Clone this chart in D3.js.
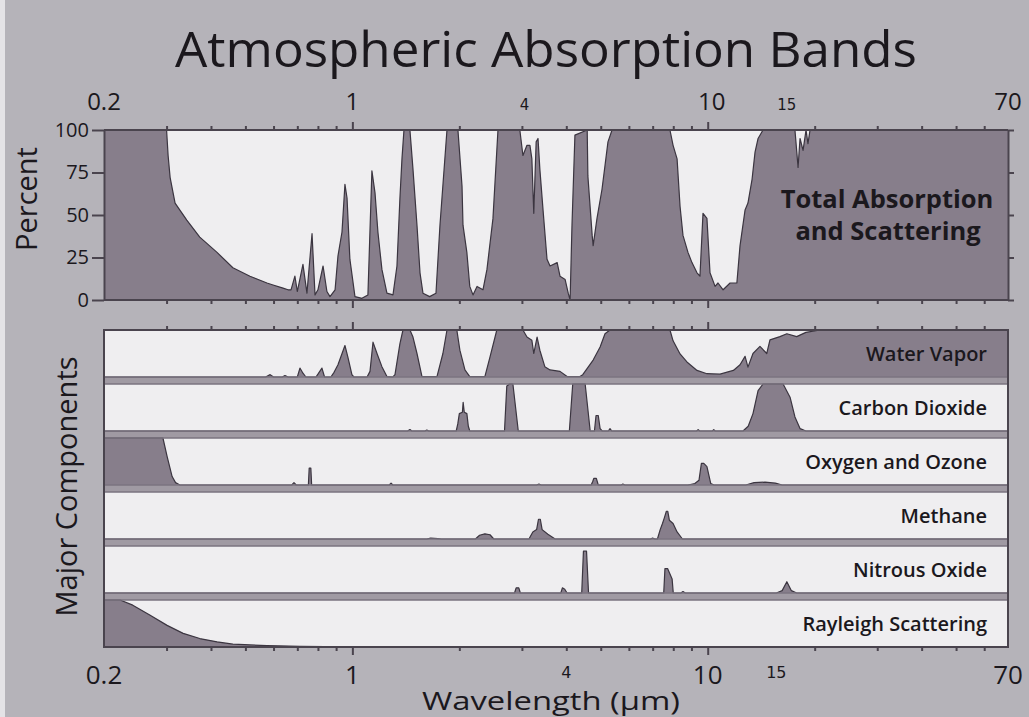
<!DOCTYPE html>
<html>
<head>
<meta charset="utf-8">
<script src="https://cdn.jsdelivr.net/npm/d3@7"></script>
<style>
  body { margin: 0; background: #b5b3b9; }
  svg { display: block; font-family: "Open Sans", sans-serif; }
</style>
</head>
<body>
<svg id="chart" width="1029" height="717"></svg>
<script>
// wavelength (µm) vs percent
const totalAbsorption = [
  [0.2, 100], [0.300, 100], [0.303, 85], [0.307, 72], [0.317, 57], [0.342, 47],
  [0.372, 37], [0.416, 28], [0.461, 19], [0.515, 14], [0.575, 10], [0.595, 9],
  [0.638, 7], [0.659, 6], [0.672, 6], [0.689, 14], [0.700, 5], [0.726, 21],
  [0.745, 4], [0.770, 39], [0.785, 3], [0.800, 6], [0.827, 20], [0.848, 5],
  [0.865, 2], [0.894, 6], [0.911, 26], [0.935, 40], [0.953, 68], [0.966, 60],
  [0.984, 24], [1.017, 2], [1.064, 1], [1.106, 3], [1.135, 76], [1.158, 63],
  [1.180, 40], [1.211, 18], [1.251, 4], [1.301, 3], [1.335, 20], [1.361, 60],
  [1.379, 83], [1.397, 100], [1.452, 100], [1.481, 77], [1.520, 44], [1.550, 16],
  [1.580, 4], [1.650, 2], [1.719, 4], [1.764, 44], [1.846, 100], [1.982, 100],
  [2.035, 67], [2.048, 44], [2.100, 28], [2.140, 8], [2.185, 3], [2.243, 8],
  [2.331, 6], [2.392, 18], [2.487, 48], [2.569, 100], [2.960, 100], [3.02, 85],
  [3.10, 91], [3.16, 91], [3.20, 83], [3.24, 51], [3.29, 93], [3.33, 95],
  [3.37, 77], [3.44, 53], [3.53, 24], [3.60, 20], [3.77, 22], [3.84, 14],
  [3.97, 12], [4.05, 4], [4.10, 0], [4.15, 44], [4.23, 97], [4.58, 100],
  [4.60, 73], [4.73, 38], [4.76, 32], [4.88, 48], [5.04, 65], [5.14, 79],
  [5.24, 93], [5.38, 100], [7.83, 100], [7.99, 91], [8.20, 83], [8.36, 55],
  [8.52, 38], [8.80, 28], [9.03, 22], [9.33, 16], [9.51, 14], [9.70, 51],
  [9.95, 48], [10.15, 16], [10.49, 8], [10.69, 10], [11.05, 6], [11.56, 10],
  [12.08, 10], [12.33, 32], [12.74, 53], [12.98, 57], [13.33, 71], [13.59, 87],
  [13.86, 95], [14.31, 100], [17.6, 100], [17.96, 78], [18.19, 95], [18.55, 88],
  [18.91, 100], [19.15, 92], [19.41, 100], [70, 100]
];

const waterVapor = [
  [0.2, 0], [0.57, 0], [0.587, 5], [0.60, 0], [0.635, 0], [0.646, 3], [0.66, 0],
  [0.70, 0], [0.712, 19], [0.726, 8], [0.74, 0], [0.79, 0], [0.80, 6], [0.821, 19],
  [0.835, 0], [0.87, 0], [0.888, 10], [0.911, 26], [0.953, 67], [0.971, 43],
  [0.997, 5], [1.01, 0], [1.10, 0], [1.121, 12], [1.143, 74], [1.173, 50],
  [1.211, 22], [1.251, 1], [1.30, 0], [1.318, 5], [1.361, 71], [1.388, 100],
  [1.452, 100], [1.481, 85], [1.52, 50], [1.57, 1], [1.73, 1], [1.798, 50],
  [1.846, 100], [1.968, 100], [2.007, 57], [2.074, 15], [2.14, 1], [2.36, 1],
  [2.44, 43], [2.55, 100], [3.02, 100], [3.10, 85], [3.20, 78], [3.24, 50],
  [3.31, 85], [3.37, 57], [3.48, 22], [3.60, 15], [3.84, 12], [4.02, 1],
  [4.37, 1], [4.45, 5], [4.76, 36], [4.98, 64], [5.14, 92], [5.31, 100],
  [7.83, 100], [7.99, 77], [8.36, 49], [8.74, 32], [9.33, 14], [9.95, 7],
  [10.83, 6], [11.81, 14], [12.33, 26], [12.74, 44], [12.98, 21], [13.41, 50],
  [14.03, 65], [14.66, 50], [14.97, 79], [15.97, 86], [16.7, 92], [17.8, 86],
  [18.9, 95], [20.71, 100], [70, 100]
];

const carbonDioxide = [
  [0.2, 0], [1.43, 0], [1.452, 3], [1.47, 0], [1.60, 0], [1.62, 2], [1.64, 0],
  [1.96, 0], [1.98, 15], [2.00, 37], [2.04, 40], [2.05, 61], [2.065, 40],
  [2.10, 37], [2.12, 10], [2.14, 0], [2.68, 0], [2.72, 96], [2.77, 100],
  [2.83, 100], [2.93, 0], [4.08, 0], [4.17, 100], [4.52, 100], [4.67, 0],
  [4.80, 0], [4.85, 33], [4.92, 33], [4.98, 5], [5.05, 0], [5.25, 0], [5.31, 5],
  [5.37, 0], [9.3, 0], [9.4, 3], [9.5, 0], [10.3, 0], [10.4, 3], [10.5, 0],
  [12.57, 0], [13.0, 10], [13.41, 37], [13.86, 86], [14.31, 100], [16.3, 100],
  [17.05, 72], [17.6, 30], [18.2, 5], [18.9, 0], [70, 0]
];

const oxygenOzone = [
  [0.2, 100], [0.293, 100], [0.301, 61], [0.311, 18], [0.318, 5], [0.327, 0],
  [0.675, 0], [0.685, 5], [0.695, 0], [0.752, 0], [0.756, 36], [0.764, 36],
  [0.768, 0], [1.27, 0], [1.285, 4], [1.30, 0], [3.3, 0], [3.35, 2], [3.4, 0],
  [4.70, 0], [4.75, 8], [4.78, 14], [4.86, 14], [4.92, 0], [5.7, 0], [5.77, 2],
  [5.85, 0], [8.8, 0], [9.2, 3], [9.45, 10], [9.6, 46], [9.75, 46], [9.95, 39],
  [10.2, 3], [10.42, 0], [12.8, 0], [13.5, 5], [14.5, 6], [15.5, 4], [16.2, 0],
  [70, 0]
];

const methane = [
  [0.2, 0], [1.62, 0], [1.66, 2], [1.74, 1], [1.78, 0], [2.22, 0], [2.28, 8],
  [2.36, 11], [2.44, 9], [2.50, 0], [3.14, 0], [3.22, 15], [3.30, 20], [3.34, 42],
  [3.38, 42], [3.42, 20], [3.55, 10], [3.72, 0], [6.9, 0], [7.0, 2], [7.1, 0],
  [7.22, 0], [7.35, 20], [7.46, 33], [7.55, 45], [7.65, 59], [7.72, 59],
  [7.80, 40], [7.99, 33], [8.2, 15], [8.49, 0], [70, 0]
];

const nitrousOxide = [
  [0.2, 0], [2.86, 0], [2.89, 11], [2.94, 11], [2.97, 0], [3.86, 0], [3.90, 11],
  [3.96, 8], [4.02, 0], [4.42, 0], [4.47, 89], [4.56, 89], [4.62, 0], [7.52, 0],
  [7.58, 52], [7.71, 52], [7.94, 30], [8.0, 0], [8.4, 0], [8.52, 3], [8.65, 0],
  [15.6, 0], [16.2, 5], [16.7, 24], [17.2, 5], [17.8, 0], [70, 0]
];

const rayleigh = [
  [0.2, 100], [0.222, 100], [0.241, 89], [0.269, 68], [0.301, 46], [0.334, 29],
  [0.372, 18], [0.416, 11], [0.461, 6], [0.575, 3], [0.712, 1.5], [0.984, 0.5],
  [2, 0], [70, 0]
];

const components = [
  { name: "Water Vapor", data: waterVapor },
  { name: "Carbon Dioxide", data: carbonDioxide },
  { name: "Oxygen and Ozone", data: oxygenOzone },
  { name: "Methane", data: methane },
  { name: "Nitrous Oxide", data: nitrousOxide },
  { name: "Rayleigh Scattering", data: rayleigh }
];

const minorTicks = [0.3, 0.4, 0.5, 0.6, 0.7, 0.8, 0.9, 2, 3, 4, 5, 6, 7, 8, 9, 20, 30, 40, 50, 60];
const majorTicks = [1, 10];
const bigLabels = [0.2, 1, 10, 70];
const smallLabels = [4, 15];
// the small labels sit a little off their ticks in the original
const topSmallLabelPos = [3.05, 16.7];
const bottomSmallLabelPos = [4, 15.6];
const percentTicks = [0, 25, 50, 75, 100];

const COLORS = {
  fill: "#877e8b",
  line: "#3b3540",
  panel: "#efeef0",
  gap: "#a09aa3",
  frame: "#4a444e",
  text: "#1b181d"
};

const svg = d3.select("#chart");
const x = d3.scaleLog().domain([0.2, 70]).range([104, 1008]);
const yTop = d3.scaleLinear().domain([0, 100]).range([300, 130]);

const LOWER_TOP = 330;
const PANEL_H = 47;
const GAP = 7;
const LOWER_BOTTOM = LOWER_TOP + 6 * PANEL_H + 5 * GAP;

// photo edge on the left
svg.append("rect").attr("x", 0).attr("y", 0).attr("width", 5).attr("height", 717).attr("fill", "#e4e3e6");

// Title
svg.append("text")
  .attr("x", 546).attr("y", 67)
  .attr("text-anchor", "middle")
  .attr("font-size", 49)
  .attr("fill", COLORS.text)
  .attr("textLength", 742)
  .attr("lengthAdjust", "spacingAndGlyphs")
  .text("Atmospheric Absorption Bands");

function drawSpectrum(g, data, y) {
  g.append("path")
    .datum(data)
    .attr("fill", COLORS.fill)
    .attr("d", d3.area().x((d) => x(d[0])).y0(y(0)).y1((d) => y(d[1])));
  g.append("path")
    .datum(data)
    .attr("fill", "none")
    .attr("stroke", COLORS.line)
    .attr("stroke-width", 1.2)
    .attr("stroke-linejoin", "round")
    .attr("d", d3.line().x((d) => x(d[0])).y((d) => y(d[1])));
}

function xTicks(y, dir) {
  const axisFn = dir === "up" ? d3.axisTop : d3.axisBottom;
  svg.append("g")
    .attr("transform", `translate(0,${y})`)
    .call(axisFn(x).tickValues(minorTicks).tickSize(4).tickFormat("").tickSizeOuter(0))
    .call((g) => g.select(".domain").remove())
    .call((g) => g.selectAll("line").attr("stroke", COLORS.frame).attr("stroke-width", 2));
  svg.append("g")
    .attr("transform", `translate(0,${y})`)
    .call(axisFn(x).tickValues(majorTicks).tickSize(8).tickFormat("").tickSizeOuter(0))
    .call((g) => g.select(".domain").remove())
    .call((g) => g.selectAll("line").attr("stroke", COLORS.frame).attr("stroke-width", 2));
}

// ---- Top panel: total absorption
const topPanel = svg.append("g");
topPanel.append("rect")
  .attr("x", x(0.2)).attr("y", yTop(100))
  .attr("width", x(70) - x(0.2)).attr("height", yTop(0) - yTop(100))
  .attr("fill", COLORS.panel);
drawSpectrum(topPanel, totalAbsorption, yTop);

topPanel.append("g")
  .attr("transform", `translate(${x(0.2)},0)`)
  .call(d3.axisLeft(yTop).tickValues(percentTicks).tickSize(12).tickPadding(3).tickSizeOuter(0))
  .call((g) => g.select(".domain").attr("stroke", COLORS.frame).attr("stroke-width", 2))
  .call((g) => g.selectAll("line").attr("stroke", COLORS.frame).attr("stroke-width", 2))
  .call((g) => g.selectAll("text").attr("font-size", 20).attr("fill", COLORS.text)
    .attr("font-family", "Open Sans, sans-serif"));

topPanel.append("g")
  .attr("transform", `translate(${x(70)},0)`)
  .call(d3.axisRight(yTop).tickValues(percentTicks).tickSize(6).tickFormat("").tickSizeOuter(0))
  .call((g) => g.select(".domain").attr("stroke", COLORS.frame).attr("stroke-width", 2))
  .call((g) => g.selectAll("line").attr("stroke", COLORS.frame).attr("stroke-width", 2));

[100, 0].forEach((v) => {
  topPanel.append("line")
    .attr("x1", x(0.2)).attr("x2", x(70))
    .attr("y1", yTop(v)).attr("y2", yTop(v))
    .attr("stroke", COLORS.frame).attr("stroke-width", 2);
});
xTicks(yTop(100), "up");
xTicks(yTop(0), "down");

topPanel.append("text")
  .attr("transform", "translate(37,199) rotate(-90)")
  .attr("text-anchor", "middle")
  .attr("font-size", 29)
  .attr("fill", COLORS.text)
  .text("Percent");

const labelTotal = topPanel.append("text")
  .attr("text-anchor", "middle")
  .attr("font-size", 25.5)
  .attr("font-weight", "bold")
  .attr("fill", COLORS.text);
labelTotal.append("tspan").attr("x", 887).attr("y", 208).text("Total Absorption");
labelTotal.append("tspan").attr("x", 888).attr("y", 240).text("and Scattering");

// ---- Lower panels: major components
svg.append("rect")
  .attr("x", x(0.2)).attr("y", LOWER_TOP)
  .attr("width", x(70) - x(0.2)).attr("height", LOWER_BOTTOM - LOWER_TOP)
  .attr("fill", COLORS.gap);

components.forEach((c, i) => {
  const y0 = LOWER_TOP + i * (PANEL_H + GAP);
  const y = d3.scaleLinear().domain([0, 100]).range([y0 + PANEL_H, y0]);
  const g = svg.append("g");
  g.append("rect")
    .attr("x", x(0.2)).attr("y", y0)
    .attr("width", x(70) - x(0.2)).attr("height", PANEL_H)
    .attr("fill", COLORS.panel);
  drawSpectrum(g, c.data, y);
  g.append("rect")
    .attr("x", x(0.2)).attr("y", y0)
    .attr("width", x(70) - x(0.2)).attr("height", PANEL_H)
    .attr("fill", "none")
    .attr("stroke", "#7b7480")
    .attr("stroke-width", 1.5);
  g.append("text")
    .attr("x", 987).attr("y", y0 + PANEL_H / 2 + 7)
    .attr("text-anchor", "end")
    .attr("font-size", 20)
    .attr("font-weight", 600)
    .attr("fill", COLORS.text)
    .text(c.name);
});

svg.append("rect")
  .attr("x", x(0.2)).attr("y", LOWER_TOP)
  .attr("width", x(70) - x(0.2)).attr("height", LOWER_BOTTOM - LOWER_TOP)
  .attr("fill", "none")
  .attr("stroke", COLORS.frame)
  .attr("stroke-width", 2);
xTicks(LOWER_TOP, "up");
xTicks(LOWER_BOTTOM, "down");

svg.append("text")
  .attr("transform", `translate(77,${(LOWER_TOP + LOWER_BOTTOM) / 2 - 2}) rotate(-90)`)
  .attr("text-anchor", "middle")
  .attr("font-size", 29)
  .attr("fill", COLORS.text)
  .text("Major Components");

// ---- Axis labels
const topLabels = svg.append("g").attr("fill", COLORS.text);
topLabels.selectAll("text.big")
  .data(bigLabels)
  .join("text")
  .attr("class", "big")
  .attr("x", (d) => x(d) + (d === 10 ? 4 : 0))
  .attr("y", 110)
  .attr("text-anchor", "middle")
  .attr("font-size", 24)
  .text((d) => d);
topLabels.selectAll("text.small")
  .data(smallLabels)
  .join("text")
  .attr("class", "small")
  .attr("x", (d, i) => x(topSmallLabelPos[i]))
  .attr("y", 110)
  .attr("text-anchor", "middle")
  .attr("font-size", 15)
  .attr("font-family", "DejaVu Sans, sans-serif")
  .text((d) => d);

const bottomLabels = svg.append("g").attr("fill", COLORS.text);
bottomLabels.selectAll("text.big")
  .data(bigLabels)
  .join("text")
  .attr("class", "big")
  .attr("x", (d) => x(d))
  .attr("y", 684)
  .attr("text-anchor", "middle")
  .attr("font-size", 26)
  .text((d) => d);
bottomLabels.selectAll("text.small")
  .data(smallLabels)
  .join("text")
  .attr("class", "small")
  .attr("x", (d, i) => x(bottomSmallLabelPos[i]))
  .attr("y", 678)
  .attr("text-anchor", "middle")
  .attr("font-size", 16)
  .attr("font-family", "DejaVu Sans, sans-serif")
  .text((d) => d);

svg.append("text")
  .attr("x", 551).attr("y", 710)
  .attr("text-anchor", "middle")
  .attr("font-size", 26)
  .attr("textLength", 258)
  .attr("lengthAdjust", "spacingAndGlyphs")
  .attr("fill", COLORS.text)
  .text("Wavelength (µm)");
</script>
</body>
</html>
